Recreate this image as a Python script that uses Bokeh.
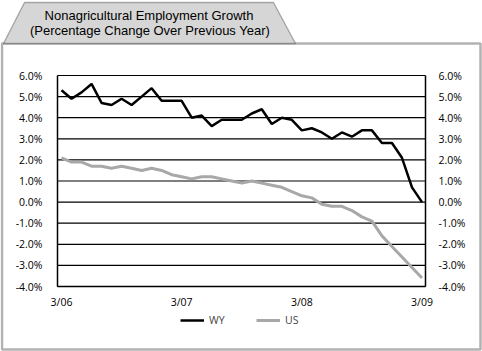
from bokeh.plotting import figure
from bokeh.models import (Range1d, LinearAxis, FixedTicker, PrintfTickFormatter,
                          Legend, LegendItem, PolyAnnotation, Label)
from bokeh.embed import file_html
from bokeh.resources import INLINE

# ---- data ----
title_line1 = "Nonagricultural Employment Growth"
title_line2 = "(Percentage Change Over Previous Year)"
months = list(range(37))  # 3/06 .. 3/09, monthly
wy = [5.3, 4.9, 5.2, 5.6, 4.7, 4.6, 4.9, 4.6, 5.0, 5.4, 4.8, 4.8,
      4.8, 4.0, 4.1, 3.6, 3.9, 3.9, 3.9, 4.2, 4.4, 3.7, 4.0, 3.9,
      3.4, 3.5, 3.3, 3.0, 3.3, 3.1, 3.4, 3.4, 2.8, 2.8, 2.1, 0.7, 0.0]
us = [2.1, 1.9, 1.9, 1.7, 1.7, 1.6, 1.7, 1.6, 1.5, 1.6, 1.5, 1.3,
      1.2, 1.1, 1.2, 1.2, 1.1, 1.0, 0.9, 1.0, 0.9, 0.8, 0.7, 0.5,
      0.3, 0.2, -0.1, -0.2, -0.2, -0.4, -0.7, -0.9, -1.6, -2.1, -2.6, -3.1, -3.6]
x_tick_pos = [0, 12, 24, 36]
x_tick_labels = ["3/06", "3/07", "3/08", "3/09"]
y_ticks = [-4, -3, -2, -1, 0, 1, 2, 3, 4, 5, 6]

FONT = "Open Sans"
TFONT = "Liberation Sans"

# ---- geometry of the plot area inside the 482x351 canvas ----
W, H = 482, 351
AL, AR, AT, AB = 57, 425, 75, 286          # plot-area pixel edges
XMIN, XMAX = -0.4, 36.35                   # category axis extent
YMIN, YMAX = y_ticks[0], y_ticks[-1]
xs_per_px = (XMAX - XMIN) / (AR - AL)
ys_per_px = (YMAX - YMIN) / (AB - AT)
x_range = Range1d(XMIN - AL * xs_per_px, XMAX + (W - AR) * xs_per_px)
y_range = Range1d(YMIN - (H - AB) * ys_per_px, YMAX + AT * ys_per_px)

p = figure(width=W, height=H, output_backend="svg", toolbar_location=None,
           x_range=x_range, y_range=y_range, min_border=0,
           x_axis_location=None, y_axis_location=None)
p.background_fill_color = "white"
p.border_fill_color = "white"
p.outline_line_color = None
p.xgrid.visible = False
p.ygrid.visible = False

# horizontal grid lines across the plot area
p.segment(x0=[XMIN] * len(y_ticks), x1=[XMAX] * len(y_ticks), y0=y_ticks,
          y1=y_ticks, line_color="black", line_width=1.2)

def style(ax):
    ax.major_tick_line_color = None
    ax.minor_tick_line_color = None
    ax.axis_line_color = "black"
    ax.axis_line_width = 1.5
    ax.major_label_text_font = FONT
    ax.major_label_text_font_size = "10.5px"
    ax.major_label_text_color = "black"

left = LinearAxis(ticker=FixedTicker(ticks=y_ticks),
                  formatter=PrintfTickFormatter(format="%.1f%%"),
                  fixed_location=XMIN, bounds=(YMIN, YMAX),
                  major_label_standoff=9)
right = LinearAxis(ticker=FixedTicker(ticks=y_ticks),
                   formatter=PrintfTickFormatter(format="%.1f%%"),
                   fixed_location=XMAX, bounds=(YMIN, YMAX),
                   major_label_standoff=7)
bottom = LinearAxis(ticker=FixedTicker(ticks=x_tick_pos),
                    major_label_overrides={t: l for t, l in zip(x_tick_pos, x_tick_labels)},
                    fixed_location=YMIN, bounds=(XMIN, XMAX),
                    major_label_standoff=2)
for ax in (left, right, bottom):
    style(ax)
p.add_layout(left, "left")
p.add_layout(right, "right")
p.add_layout(bottom, "below")

r_wy = p.line(months, wy, line_color="black", line_width=2.5)
r_us = p.line(months, us, line_color="#a8a8a8", line_width=3)

legend = Legend(items=[LegendItem(label="WY", renderers=[r_wy]),
                       LegendItem(label="US", renderers=[r_us])],
                orientation="horizontal", location=(180, 24),
                padding=0, margin=0, spacing=27, glyph_width=24,
                glyph_height=14, label_height=14, label_standoff=5,
                label_text_font=FONT, label_text_font_size="10.5px",
                border_line_color=None, background_fill_alpha=0)
p.add_layout(legend, "center")

# outer box and title tab (screen units, origin at bottom-left)
box = PolyAnnotation(xs=[1.5, 480, 480, 1.5], ys=[H - 43, H - 43, 2, 2],
                     xs_units="screen", ys_units="screen",
                     fill_color=None, fill_alpha=0,
                     line_color="black", line_width=2.5)
tab = PolyAnnotation(xs=[3, 24, 273, 295], ys=[H - 43, H - 2, H - 2, H - 43],
                     xs_units="screen", ys_units="screen",
                     fill_color="#d6d6d6", fill_alpha=1,
                     line_color="black", line_width=1.3)
p.add_layout(box)
p.add_layout(tab)
l1 = Label(x=148.5, y=H - 15, x_units="screen", y_units="screen",
           text=title_line1, text_align="center", text_baseline="middle",
           text_font=TFONT, text_font_size="13px", text_color="black")
l2 = Label(x=149.5, y=H - 29.5, x_units="screen", y_units="screen",
           text=title_line2, text_align="center", text_baseline="middle",
           text_font=TFONT, text_font_size="13px", text_color="black")
p.add_layout(l1)
p.add_layout(l2)

open("out.html", "w").write(file_html(p, INLINE))
